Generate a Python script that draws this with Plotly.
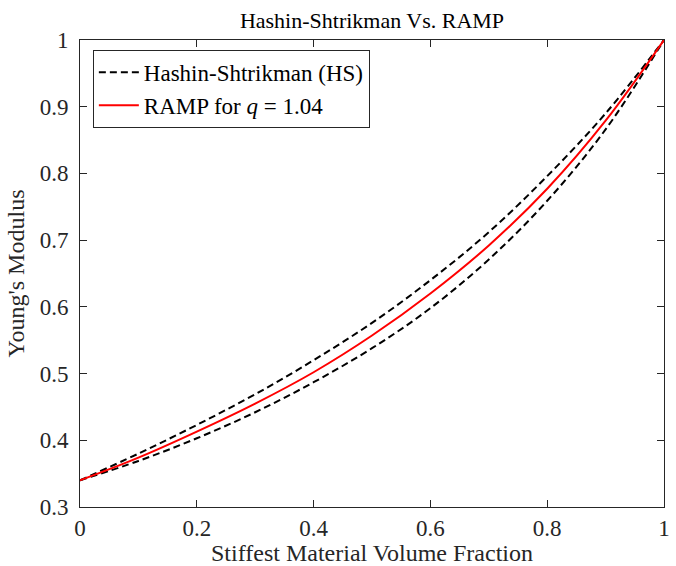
import plotly.graph_objects as go

# Data
volume_fraction = [0.0, 0.1, 0.2, 0.3, 0.4, 0.5, 0.6, 0.7, 0.8, 0.9, 1.0]
hs_upper = [0.340, 0.380, 0.423, 0.469, 0.520, 0.576, 0.640, 0.712, 0.796, 0.890, 1.000]
hs_lower = [0.340, 0.369, 0.403, 0.442, 0.487, 0.538, 0.598, 0.671, 0.759, 0.866, 1.000]
ramp_q104 = [0.340, 0.374, 0.413, 0.455, 0.502, 0.557, 0.620, 0.692, 0.777, 0.879, 1.000]

x_ticks = [0, 0.2, 0.4, 0.6, 0.8, 1]
x_tick_labels = ["0", "0.2", "0.4", "0.6", "0.8", "1"]
y_ticks = [0.3, 0.4, 0.5, 0.6, 0.7, 0.8, 0.9, 1.0]
y_tick_labels = ["0.3", "0.4", "0.5", "0.6", "0.7", "0.8", "0.9", "1"]

FONT = "Liberation Serif"
AX = "#262626"

fig = go.Figure()
fig.add_trace(go.Scatter(
    x=volume_fraction, y=hs_upper, mode="lines", name="Hashin-Shtrikman (HS)",
    line=dict(color="black", width=2, dash="7px,4px", shape="spline")))
fig.add_trace(go.Scatter(
    x=volume_fraction, y=hs_lower, mode="lines", name="Hashin-Shtrikman (HS)",
    line=dict(color="black", width=2, dash="7px,4px", shape="spline"),
    showlegend=False))
fig.add_trace(go.Scatter(
    x=volume_fraction, y=ramp_q104, mode="lines", name="RAMP for <i>q</i> = 1.04",
    line=dict(color="#ff0000", width=2, shape="spline")))

axis_common = dict(
    showgrid=False, zeroline=False, showline=True, linecolor=AX, linewidth=1,
    mirror="ticks", ticks="inside", ticklen=7, tickwidth=1, tickcolor=AX,
    tickfont=dict(family=FONT, size=23, color=AX), automargin=False,
)

fig.update_layout(
    width=676, height=566,
    margin=dict(l=80, r=12, t=40, b=59),
    paper_bgcolor="white", plot_bgcolor="white",
    font=dict(family=FONT, size=23, color=AX),
    title=dict(text="Hashin-Shtrikman Vs. RAMP", x=(80 + 584 / 2) / 676, xanchor="center",
               y=1 - 20 / 566, yanchor="middle", yref="container",
               font=dict(family=FONT, size=22, color="black")),
    xaxis=dict(range=[0, 1], tickvals=x_ticks, ticktext=x_tick_labels,
               title=dict(text="Stiffest Material Volume Fraction", standoff=6,
                          font=dict(family=FONT, size=24, color=AX)),
               **axis_common),
    yaxis=dict(range=[0.3, 1], tickvals=y_ticks, ticktext=y_tick_labels,
               ticklabelstandoff=6,
               title=dict(text="Young's Modulus", standoff=8,
                          font=dict(family=FONT, size=24, color=AX)),
               **axis_common),
    legend=dict(x=0.022, y=0.979, xanchor="left", yanchor="top",
                bgcolor="white", bordercolor=AX, borderwidth=1,
                font=dict(family=FONT, size=23, color="black"),
                tracegroupgap=0, itemwidth=40),
    showlegend=True,
)

fig.write_html(
    "out.html",
    config={"displayModeBar": False},
    post_script="document.body.style.margin='0';document.body.style.overflow='hidden';",
)
